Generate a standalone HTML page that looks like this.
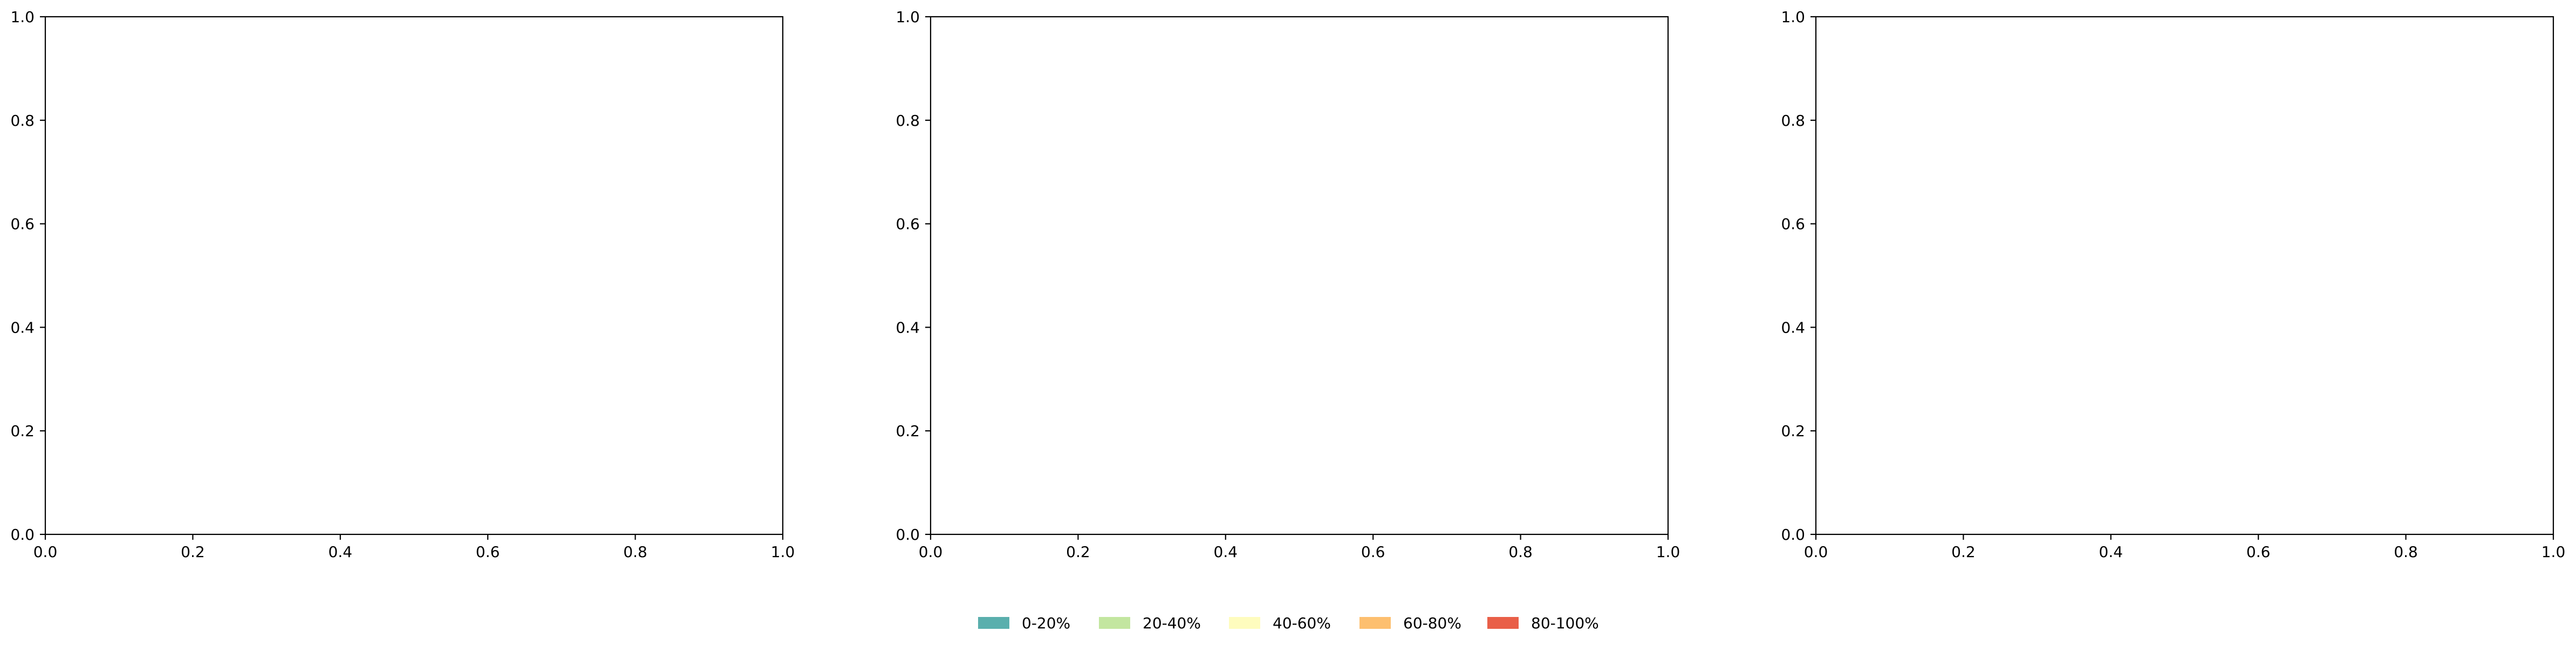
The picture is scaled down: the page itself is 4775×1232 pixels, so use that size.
<!DOCTYPE html>
<html><head><meta charset="utf-8"><style>
html,body{margin:0;padding:0;background:#fff;}
svg{display:block;font-family:"DejaVu Sans","Liberation Sans",sans-serif;}
</style></head><body>
<svg id="fig" width="4775" height="1232" viewBox="0 0 4775 1232" xmlns="http://www.w3.org/2000/svg">
<rect width="4775" height="1232" fill="#fff"/>
<g id="panels"></g>
<g id="legend"></g>
</svg>
<script>
const tickValues = [0, 0.2, 0.4, 0.6, 0.8, 1.0];
const tickLabels = ["0.0","0.2","0.4","0.6","0.8","1.0"];
const legendLabels = ["0-20%","20-40%","40-60%","60-80%","80-100%"];
const legendColors = ["#5aafad","#c3e6a0","#fefcbe","#fdbf6f","#e95f48"];
const panelLefts = [84, 1725, 3366];
const legendX = [1813, 2037, 2278, 2520, 2757];

const NS = "http://www.w3.org/2000/svg";
const axTop = 31, axBottom = 990, axW = 1367;
function mk(tag, attrs, parent){const e=document.createElementNS(NS,tag);for(const k in attrs)e.setAttribute(k,attrs[k]);parent.appendChild(e);return e;}
const panelsG = document.getElementById('panels');
panelLefts.forEach((L, i) => {
  const g = mk('g', {}, panelsG);
  
  
  const xs = v => L + v * axW;
  const ys = v => axBottom - v * (axBottom - axTop);
  tickValues.forEach((v, j) => {
    const x = xs(v), y = ys(v);
    const tx = mk('line', {x1:x, x2:x, y1:axBottom, y2:axBottom+10, stroke:'#000', 'stroke-width':2.2}, g);
    
    
    const lx = mk('text', {x:x, y:axBottom+42, 'font-size':28, 'text-anchor':'middle', fill:'#000'}, g);
    lx.textContent = tickLabels[j];
    
    
    const ty = mk('line', {x1:L-10, x2:L, y1:y, y2:y, stroke:'#000', 'stroke-width':2.2}, g);
    
    
    const ly = mk('text', {x:L-20, y:y+10, 'font-size':28, 'text-anchor':'end', fill:'#000'}, g);
    ly.textContent = tickLabels[j];
    
    
  });
  const fr = mk('rect', {x:L, y:axTop, width:axW, height:axBottom-axTop, fill:'none', stroke:'#000', 'stroke-width':2.2}, g);
  
  
});
const lg = document.getElementById('legend');
legendLabels.forEach((t, i) => {
  const e = mk('g', {}, lg);
  
  
  const r = mk('rect', {x:legendX[i], y:1143, width:58, height:22, fill:legendColors[i]}, e);
  
  
  const tx = mk('text', {x:legendX[i]+81, y:1164, 'font-size':28, fill:'#000'}, e);
  tx.textContent = t;
  
  
});
</script>
</body></html>
